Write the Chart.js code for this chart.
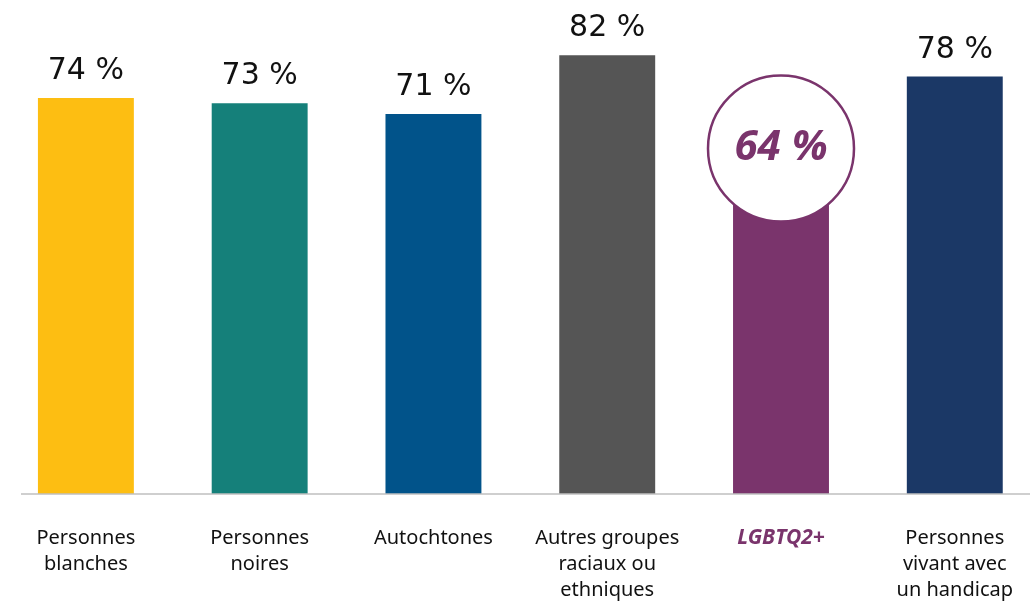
<!DOCTYPE html>
<html lang="fr">
<head>
<meta charset="utf-8">
<title>Groupes</title>
<script src="https://cdn.jsdelivr.net/npm/chart.js@4.4.1/dist/chart.umd.min.js"></script>
<style>
  html, body { margin: 0; padding: 0; background: #fff; overflow: hidden; }
  .wrap { position: relative; width: 1045px; height: 602px; margin-left: -1px; }
</style>
</head>
<body>
<div class="wrap"><canvas id="chart"></canvas></div>
<script>
// donnees
var categories = [
  ['Personnes', 'blanches'],
  ['Personnes', 'noires'],
  ['Autochtones'],
  ['Autres groupes', 'raciaux ou', 'ethniques'],
  ['LGBTQ2+'],
  ['Personnes', 'vivant avec', 'un handicap']
];
var values = [74, 73, 71, 82, 64, 78];
var colors = ['#FDBE12', '#15807A', '#01538A', '#555555', '#7A346C', '#1B3866'];
var highlight = 4; // LGBTQ2+
var purple = '#7A346C';

// etiquettes de valeur + cercle
var labelPlugin = {
  id: 'valueLabels',
  afterDatasetsDraw: function(chart) {
    var ctx = chart.ctx;
    var area = chart.chartArea;
    // ligne de base
    ctx.save();
    ctx.strokeStyle = '#bfbfbf';
    ctx.lineWidth = 1.5;
    ctx.beginPath();
    ctx.moveTo(22, area.bottom);
    ctx.lineTo(chart.width, area.bottom);
    ctx.stroke();

    var meta = chart.getDatasetMeta(0);
    meta.data.forEach(function(bar, i) {
      var txt = values[i] + ' %';
      if (i === highlight) {
        ctx.beginPath();
        ctx.arc(bar.x, bar.y - 3, 73, 0, Math.PI * 2);
        ctx.fillStyle = '#fff';
        ctx.fill();
        ctx.lineWidth = 2.5;
        ctx.strokeStyle = purple;
        ctx.stroke();
        ctx.fillStyle = purple;
        ctx.font = 'italic bold 42px "Noto Sans"';
        ctx.textAlign = 'center';
        ctx.textBaseline = 'middle';
        ctx.fillText(txt, bar.x, bar.y - 3);
      } else {
        ctx.fillStyle = '#111';
        ctx.font = '30px "DejaVu Sans"';
        ctx.textAlign = 'center';
        ctx.textBaseline = 'alphabetic';
        ctx.fillText(txt, bar.x, bar.y - 19);
      }
    });
    ctx.restore();
  }
};

new Chart(document.getElementById('chart'), {
  type: 'bar',
  data: {
    labels: categories,
    datasets: [{
      data: values,
      backgroundColor: colors,
      borderWidth: 0,
      categoryPercentage: 1,
      barPercentage: 0.552
    }]
  },
  options: {
    responsive: true,
    maintainAspectRatio: false,
    animation: false,
    layout: { padding: { top: 0, left: 0, right: 0, bottom: -32 } },
    plugins: {
      legend: { display: false },
      tooltip: { enabled: false }
    },
    scales: {
      y: { display: false, min: 0, max: 92.3 },
      x: {
        grid: { display: false, drawTicks: false },
        border: { display: false },
        ticks: {
          autoSkip: false,
          maxRotation: 0,
          padding: 31,
          color: function(c) { return c.index === highlight ? purple : '#111'; },
          font: function(c) {
            if (c.index === highlight) {
              return { family: '"Noto Sans"', size: 21, weight: 'bold', style: 'italic', lineHeight: 1.24 };
            }
            return { family: '"Noto Sans"', size: 20, lineHeight: 1.3 };
          }
        }
      }
    }
  },
  plugins: [labelPlugin]
});
</script>
</body>
</html>
